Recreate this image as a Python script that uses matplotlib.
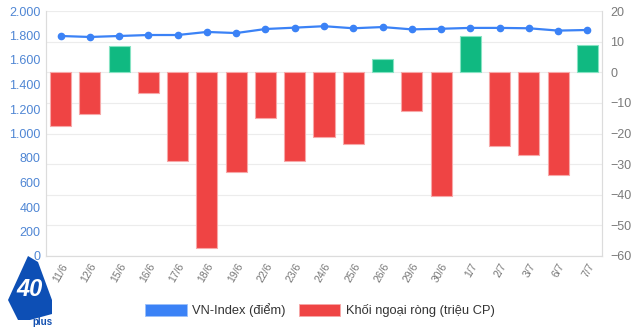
import matplotlib
matplotlib.use("Agg")
import matplotlib.pyplot as plt
from matplotlib.patches import Patch, Polygon
from matplotlib.ticker import FuncFormatter, MultipleLocator

plt.rcParams["font.family"] = ["Liberation Sans", "DejaVu Sans"]

dates = ["11/6", "12/6", "15/6", "16/6", "17/6", "18/6", "19/6", "22/6", "23/6", "24/6",
         "25/6", "26/6", "29/6", "30/6", "1/7", "2/7", "3/7", "6/7", "7/7"]
vn_index = [1796, 1788, 1796, 1804, 1804, 1829, 1820, 1853, 1864, 1876,
            1859, 1869, 1850, 1855, 1862, 1862, 1859, 1840, 1845]
foreign_net = [-17.5, -13.6, 8.6, -6.8, -29.0, -57.3, -32.7, -15.0, -29.0, -21.0,
               -23.4, 4.3, -12.7, -40.5, 11.8, -24.2, -26.9, -33.6, 9.0]

RED = "#ef4444"
GREEN = "#10b981"
BLUE = "#3b82f6"

fig = plt.figure(figsize=(6.4, 3.3), dpi=100)
ax = fig.add_axes([46/640, 1-256/330, (602-46)/640, (256-11)/330])
ax2 = ax.twinx()

x = list(range(len(dates)))
colors = [GREEN if v >= 0 else RED for v in foreign_net]
edges = ["#86e3c3" if v >= 0 else "#f7a8a8" for v in foreign_net]
ax2.bar(x, foreign_net, width=0.72, color=colors, edgecolor=edges, linewidth=0.8, zorder=3)
ax2.set_ylim(-60, 20)
ax2.yaxis.set_major_locator(MultipleLocator(10))
ax2.set_axisbelow(True)
ax2.grid(axis="y", color="#ececec", linewidth=0.8, zorder=0)

ax.plot(x, vn_index, color=BLUE, linewidth=1.6, marker="o", markersize=4.5,
        markerfacecolor=BLUE, markeredgecolor=BLUE, zorder=5)
ax.set_ylim(0, 2000)
ax.yaxis.set_major_locator(MultipleLocator(200))
ax.yaxis.set_major_formatter(FuncFormatter(lambda v, p: f"{int(v):,}".replace(",", ".")))
ax.set_xlim(-0.5, len(dates) - 0.5)
ax.set_zorder(ax2.get_zorder() + 1)
ax.patch.set_visible(False)

ax.set_xticks(x)
ax.set_xticklabels(dates, rotation=60, ha="right", rotation_mode="anchor",
                   fontsize=7.5, color="#777777")
ax.tick_params(axis="x", length=0, pad=4)
ax.tick_params(axis="y", length=0, labelsize=9, labelcolor="#4f86d4", pad=4)
ax2.tick_params(axis="y", length=0, labelsize=9, labelcolor="#7a7a7a", pad=6)

for a in (ax, ax2):
    for s in a.spines.values():
        s.set_color("#dcdcdc")
        s.set_linewidth(0.8)
    a.spines["top"].set_visible(False)

handles = [Patch(facecolor=BLUE, edgecolor="#9cc0f9", linewidth=0.6, label="VN-Index (điểm)"),
           Patch(facecolor=RED, edgecolor="#f7a8a8", linewidth=0.6, label="Khối ngoại ròng (triệu CP)")]
fig.legend(handles=handles, loc="center", bbox_to_anchor=(0.5, 1-310/330), ncol=2,
           frameon=False, fontsize=9.3, handlelength=3.2, handleheight=1.05,
           columnspacing=1.0, handletextpad=0.45, labelcolor="#333333")

# logo approximation
logo = Polygon([[18/640, 1-320/330], [8/640, 1-300/330], [28/640, 1-256/330],
                [38/640, 1-262/330], [52/640, 1-300/330], [52/640, 1-314/330],
                [30/640, 1-320/330]],
               closed=True, transform=fig.transFigure, facecolor="#0d4fb5",
               edgecolor="none", zorder=1)
fig.patches.append(logo)
fig.text(30/640, 1-290/330, "40", fontsize=17, fontweight="bold", fontstyle="italic",
         color="#ffffff", ha="center", va="center", zorder=2)
fig.text(42/640, 1-322/330, "plus", fontsize=7, fontweight="bold", color="#1350b0",
         ha="center", va="center", zorder=2)

fig.savefig("out.png", dpi=100)
